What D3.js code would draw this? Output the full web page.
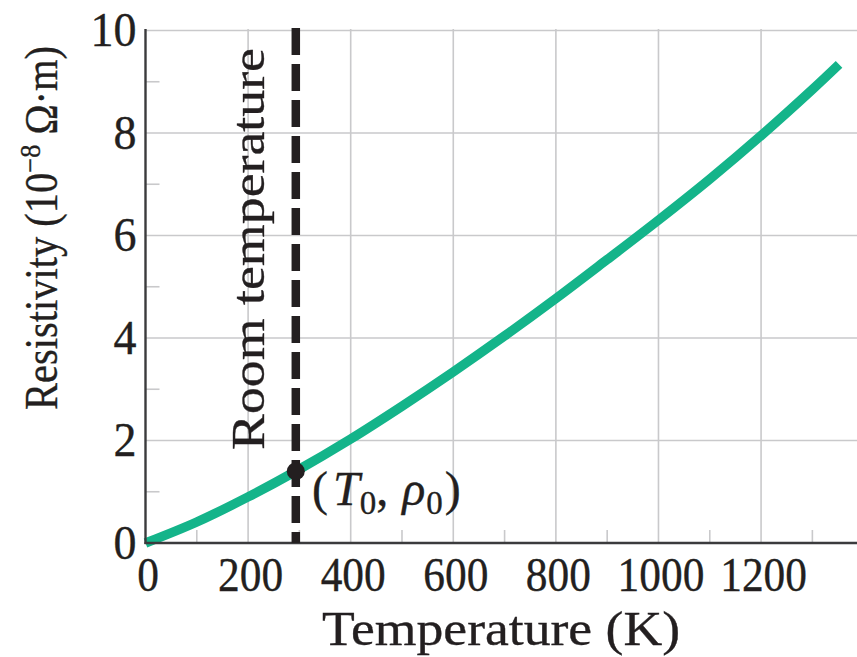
<!DOCTYPE html>
<html>
<head>
<meta charset="utf-8">
<script src="https://cdn.jsdelivr.net/npm/d3@7/dist/d3.min.js"></script>
<style>
  html, body { margin: 0; padding: 0; background: #fff; }
  svg { display: block; }
  text { font-family: "Liberation Serif", "Times New Roman", serif; fill: #231f20; stroke: #231f20; stroke-width: 0.35px; }
</style>
</head>
<body>
<svg id="chart" width="857" height="657"></svg>
<script>
// ---- data ----
const temperatureK = [0, 100, 200, 293, 400, 500, 600, 700, 800, 900, 1000, 1100, 1200, 1300, 1352];
const resistivity  = [0, 0.41, 0.90, 1.40, 2.03, 2.67, 3.34, 4.04, 4.77, 5.53, 6.30, 7.10, 7.95, 8.85, 9.34];
const xTickValues = [0, 200, 400, 600, 800, 1000, 1200];
const xMinorTicks = [100, 300, 500, 700, 900, 1100, 1300];
const yTickValues = [0, 2, 4, 6, 8, 10];
const yMinorTicks = [1, 3, 5, 7, 9];
const roomTemperature = 293;
const rho0 = 1.40;
const xTitle = "Temperature (K)";
const roomLabel = "Room temperature";

// ---- layout ----
const svg = d3.select("#chart");
const W = 857, H = 657;
const x = d3.scaleLinear().domain([0, 1387]).range([145.5, 857]);
const y = d3.scaleLinear().domain([0, 10]).range([543, 30.5]);
const gridColor = "#c9c9cb";
const axisColor = "#3b3b3d";
const curveColor = "#14b48a";
const ink = "#231f20";

// grid
const grid = svg.append("g");
grid.selectAll("line.v").data(xTickValues.filter(d => d > 0)).join("line")
  .attr("x1", d => x(d)).attr("x2", d => x(d))
  .attr("y1", y(0)).attr("y2", y(10) - 1.5)
  .attr("stroke", gridColor).attr("stroke-width", 1.6);
grid.selectAll("line.h").data(yTickValues.filter(d => d > 0)).join("line")
  .attr("x1", x(0)).attr("x2", W)
  .attr("y1", d => y(d)).attr("y2", d => y(d))
  .attr("stroke", gridColor).attr("stroke-width", 1.6);

// minor ticks
grid.selectAll("line.mx").data(xMinorTicks).join("line")
  .attr("x1", d => x(d)).attr("x2", d => x(d))
  .attr("y1", y(0)).attr("y2", y(0) - 13)
  .attr("stroke", gridColor).attr("stroke-width", 1.6);
grid.selectAll("line.my").data(yMinorTicks).join("line")
  .attr("x1", x(0)).attr("x2", x(0) + 14)
  .attr("y1", d => y(d)).attr("y2", d => y(d))
  .attr("stroke", gridColor).attr("stroke-width", 1.6);

// curve
const line = d3.line().x((d, i) => x(temperatureK[i])).y(d => y(d)).curve(d3.curveCatmullRom.alpha(0.5));
svg.append("path").datum(resistivity)
  .attr("d", line)
  .attr("fill", "none").attr("stroke", curveColor)
  .attr("stroke-width", 9.5).attr("stroke-linecap", "butt");

// axes lines
svg.append("line").attr("x1", x(0)).attr("x2", x(0)).attr("y1", y(10) - 1.5).attr("y2", y(0) + 1)
  .attr("stroke", axisColor).attr("stroke-width", 2.4);
svg.append("line").attr("x1", x(0) - 1).attr("x2", W).attr("y1", y(0)).attr("y2", y(0))
  .attr("stroke", axisColor).attr("stroke-width", 2.4);

// room temperature dashed line
svg.append("line")
  .attr("x1", x(roomTemperature)).attr("x2", x(roomTemperature))
  .attr("y1", 28).attr("y2", y(0))
  .attr("stroke", ink).attr("stroke-width", 8.5)
  .attr("stroke-dasharray", "27,9");
svg.append("circle").attr("cx", x(roomTemperature)).attr("cy", y(rho0)).attr("r", 9).attr("fill", ink);

// x axis labels via d3 axis
const xAxis = d3.axisBottom(x).tickValues(xTickValues).tickSize(0).tickPadding(0).tickFormat(d3.format("d"));
const gx = svg.append("g").attr("transform", `translate(0,${y(0)})`).call(xAxis);
gx.select(".domain").remove();
gx.selectAll("text")
  .attr("y", 0).attr("dy", 48).attr("dx", 2)
  .attr("font-size", 48)
  .attr("textLength", d => String(d).length * 21.7)
  .attr("lengthAdjust", "spacingAndGlyphs")
  .attr("fill", ink);

// y axis labels via d3 axis
const yAxis = d3.axisLeft(y).tickValues(yTickValues).tickSize(0).tickPadding(0).tickFormat(d3.format("d"));
const gy = svg.append("g").attr("transform", `translate(${x(0) - 9},0)`).call(yAxis);
gy.select(".domain").remove();
gy.selectAll("text")
  .attr("x", 0).attr("dy", 15).attr("font-size", 48)
  .attr("textLength", d => String(d).length * 23)
  .attr("lengthAdjust", "spacingAndGlyphs")
  .attr("fill", ink);

// x title
svg.append("text")
  .attr("x", 322).attr("y", 645)
  .attr("font-size", 49)
  .attr("textLength", 358).attr("lengthAdjust", "spacingAndGlyphs")
  .text(xTitle);

// y title
const yt = svg.append("text")
  .attr("transform", "translate(57,410) rotate(-90)")
  .attr("font-size", 46)
  .attr("textLength", 364).attr("lengthAdjust", "spacingAndGlyphs");
yt.append("tspan").text("Resistivity (10");
yt.append("tspan").attr("font-size", 30).attr("dy", -17).text("\u22128");
yt.append("tspan").attr("dy", 17).text(" \u03A9\u00B7m)");

// room temperature label
svg.append("text")
  .attr("transform", "translate(264,450) rotate(-90)")
  .attr("font-size", 47)
  .attr("textLength", 402).attr("lengthAdjust", "spacingAndGlyphs")
  .text(roomLabel);

// (T0, rho0) label
const pl = svg.append("text").attr("x", 312).attr("y", 505).attr("font-size", 48);
pl.append("tspan").text("(");
pl.append("tspan").attr("font-style", "italic").attr("dx", 5).text("T");
pl.append("tspan").attr("font-size", 33).attr("dy", 9).text("0");
pl.append("tspan").attr("dy", -9).text(", ");
pl.append("tspan").attr("font-style", "italic").attr("dx", 2).text("\u03C1");
pl.append("tspan").attr("font-size", 33).attr("dy", 9).attr("dx", 1).text("0");
pl.append("tspan").attr("dy", -9).attr("dx", 2).text(")");
</script>
</body>
</html>
